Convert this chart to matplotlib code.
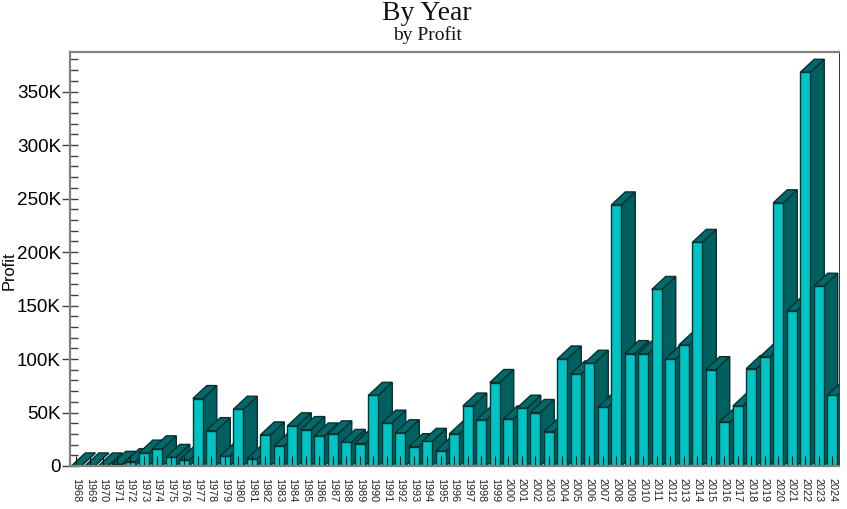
import matplotlib
matplotlib.use("Agg")
import matplotlib.pyplot as plt
from matplotlib.ticker import MultipleLocator, FuncFormatter

years = list(range(1968, 2025))
profit = [0, 0, 0, 1.5, 4, 12, 16, 8, 5.5, 63,
          33, 9, 53, 6.5, 29, 18.5, 37.5, 34, 28, 30,
          22, 21, 66, 40, 31, 18, 23, 14, 30, 56,
          43, 78, 44, 54, 50, 32, 100, 86, 96, 55,
          244, 105, 105, 165, 100, 113, 209, 90, 41, 56,
          91, 102, 246, 145, 368, 168, 66]

front_col = "#00C4C4"
side_col = "#006060"
top_col = "#006A6A"
edge_col = "#063030"
spine_col = "#808080"

# 3d offset of each bar, in data units
depth_x = 14 / 13.5
depth_y = 12.2
half_w = 0.37

fig = plt.figure(figsize=(8.47, 5.09), dpi=100)
ax = fig.add_axes([70 / 847, 1 - 466 / 509, 769 / 847, 414 / 509])

for i, val in enumerate(profit):
    left = i - half_w
    right = i + half_w
    ax.fill([right, right + depth_x, right + depth_x, right],
            [0, depth_y, val + depth_y, val],
            facecolor=side_col, edgecolor=edge_col, linewidth=1)
    ax.fill([left, left + depth_x, right + depth_x, right],
            [val, val + depth_y, val + depth_y, val],
            facecolor=top_col, edgecolor=edge_col, linewidth=1)
    ax.bar(i, val, width=half_w * 2, color=front_col,
           edgecolor=edge_col, linewidth=1)

ax.set_xlim(-0.467, 56.5)
ax.set_ylim(0, 387)

ax.yaxis.set_major_locator(MultipleLocator(50))
ax.yaxis.set_minor_locator(MultipleLocator(10))
ax.yaxis.set_major_formatter(FuncFormatter(lambda v, p: "0" if v == 0 else f"{int(v)}K"))
ax.tick_params(axis="y", which="major", direction="inout", length=11, width=1,
               color="#404040", labelsize=13.6, pad=1)
ax.tick_params(axis="y", which="minor", direction="in", length=5.5, width=1, color="#404040")

ax.set_xticks(range(len(years)))
ax.set_xticklabels(years, rotation=270, fontsize=7.8, color="#222222")
ax.tick_params(axis="x", direction="in", length=7, width=0.8, color="#111111", pad=8.5)

ax.set_ylabel("Profit", fontsize=11.8)
ax.yaxis.set_label_coords(-0.069, 0.471)

for name in ["left", "top", "bottom"]:
    ax.spines[name].set_color(spine_col)
    ax.spines[name].set_linewidth(1.6)
ax.spines["right"].set_color("#333333")
ax.spines["right"].set_linewidth(0.7)

fig.text(427 / 847, 1 - 20 / 509, "By Year", family="Liberation Serif", fontsize=20,
         ha="center", va="baseline", color="#111111")
fig.text(427 / 847, 1 - 40 / 509, "by Profit", family="Liberation Serif", fontsize=14,
         ha="center", va="baseline", color="#111111")

for lab in ax.get_yticklabels() + [ax.yaxis.label] + ax.get_xticklabels():
    lab.set_family("Liberation Sans")

fig.savefig("out.png", dpi=100)
